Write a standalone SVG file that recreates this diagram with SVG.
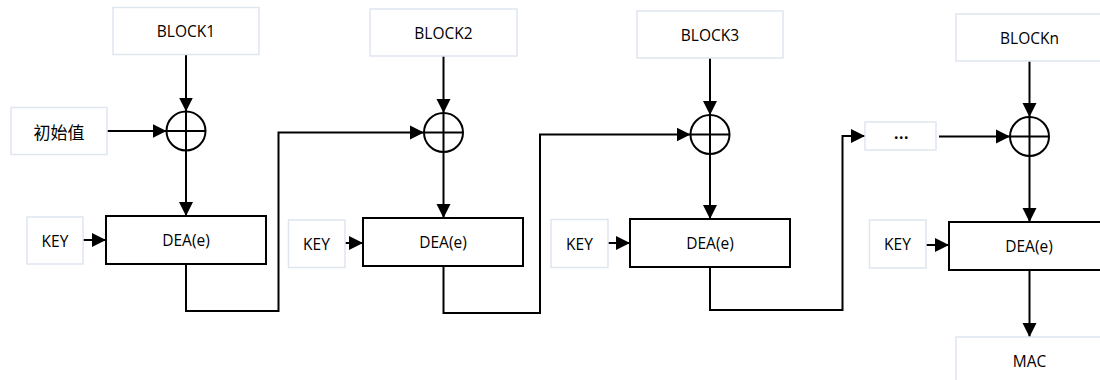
<svg xmlns="http://www.w3.org/2000/svg" width="1100" height="380" viewBox="0 0 1100 380">
  <style>
    .lbl { fill: #ffffff; stroke: #dfe5ef; stroke-width: 1.5; }
    .dea { fill: #ffffff; stroke: #000000; stroke-width: 2; }
    .xor { fill: none; stroke: #000000; stroke-width: 2; }
    .txt { font-family: "Open Sans", "Liberation Sans", Arial, sans-serif; font-size: 15.5px; fill: #000000; text-anchor: middle; dominant-baseline: central; }
    .cjk { font-family: "Noto Sans CJK SC", sans-serif; font-size: 17px; }
    .wire { fill: none; stroke: #000000; stroke-width: 2; }
    .arr { marker-end: url(#head); }
  </style>
  <defs>
    <marker id="head" markerUnits="userSpaceOnUse" markerWidth="15" markerHeight="15" viewBox="0 0 15 15" refX="14" refY="7.5" orient="auto">
      <path d="M0,0.5 L14,7.5 L0,14.5 z" fill="#000000"/>
    </marker>
  </defs>

  <rect width="1100" height="380" fill="#ffffff"/>

  <!-- connectors -->
  <g id="connectors">
    <!-- stage 1 -->
    <line class="wire arr" x1="186" y1="54" x2="186" y2="111.5"/>
    <line class="wire arr" x1="107" y1="131" x2="166.5" y2="131"/>
    <line class="wire arr" x1="186" y1="150.5" x2="186" y2="216"/>
    <line class="wire arr" x1="83" y1="240" x2="106" y2="240"/>
    <polyline class="wire arr" points="186,264 186,311 278.5,311 278.5,132.5 424,132.5"/>
    <!-- stage 2 -->
    <line class="wire arr" x1="443.5" y1="56" x2="443.5" y2="113"/>
    <line class="wire arr" x1="443.5" y1="152" x2="443.5" y2="218"/>
    <line class="wire arr" x1="345" y1="243" x2="363" y2="243"/>
    <polyline class="wire arr" points="443.5,266 443.5,313 540,313 540,134.5 690.5,134.5"/>
    <!-- stage 3 -->
    <line class="wire arr" x1="710" y1="58" x2="710" y2="115"/>
    <line class="wire arr" x1="710" y1="154" x2="710" y2="219"/>
    <line class="wire arr" x1="608" y1="243" x2="630" y2="243"/>
    <polyline class="wire arr" points="710,267 710,310 842.5,310 842.5,136 865,136"/>
    <!-- stage n -->
    <line class="wire arr" x1="939" y1="136.5" x2="1010" y2="136.5"/>
    <line class="wire arr" x1="1029.5" y1="61" x2="1029.5" y2="117"/>
    <line class="wire arr" x1="1029.5" y1="156" x2="1029.5" y2="222"/>
    <line class="wire arr" x1="926" y1="245" x2="949" y2="245"/>
    <line class="wire arr" x1="1029.5" y1="270" x2="1029.5" y2="337"/>
  </g>

  <!-- stage 1 -->
  <g id="block1">
    <rect class="lbl" x="113" y="7.5" width="146" height="47"/>
    <text class="txt" x="186" y="31">BLOCK1</text>
  </g>
  <g id="iv">
    <rect class="lbl" x="11" y="107.5" width="96" height="47"/>
    <text class="txt cjk" x="59" y="131">初始值</text>
  </g>
  <g id="xor1">
    <circle class="xor" cx="186" cy="131" r="19.5"/>
    <path class="xor" d="M166.5,131 H205.5 M186,111.5 V150.5"/>
  </g>
  <g id="key1">
    <rect class="lbl" x="27" y="217" width="56" height="47"/>
    <text class="txt" x="55" y="240.5">KEY</text>
  </g>
  <g id="dea1">
    <rect class="dea" x="106" y="216" width="160" height="48"/>
    <text class="txt" x="186" y="240">DEA(e)</text>
  </g>

  <!-- stage 2 -->
  <g id="block2">
    <rect class="lbl" x="370" y="9" width="147" height="47"/>
    <text class="txt" x="443.5" y="32.5">BLOCK2</text>
  </g>
  <g id="xor2">
    <circle class="xor" cx="443.5" cy="132.5" r="19.5"/>
    <path class="xor" d="M424,132.5 H463 M443.5,113 V152"/>
  </g>
  <g id="key2">
    <rect class="lbl" x="288.5" y="220" width="56.5" height="47.5"/>
    <text class="txt" x="316.5" y="244">KEY</text>
  </g>
  <g id="dea2">
    <rect class="dea" x="363" y="218" width="160" height="48"/>
    <text class="txt" x="443" y="242">DEA(e)</text>
  </g>

  <!-- stage 3 -->
  <g id="block3">
    <rect class="lbl" x="637" y="11" width="146" height="47"/>
    <text class="txt" x="710" y="34.5">BLOCK3</text>
  </g>
  <g id="xor3">
    <circle class="xor" cx="710" cy="134.5" r="19.5"/>
    <path class="xor" d="M690.5,134.5 H729.5 M710,115 V154"/>
  </g>
  <g id="key3">
    <rect class="lbl" x="551" y="219.5" width="57" height="48"/>
    <text class="txt" x="579.5" y="243.5">KEY</text>
  </g>
  <g id="dea3">
    <rect class="dea" x="630" y="219" width="160" height="48"/>
    <text class="txt" x="710" y="243">DEA(e)</text>
  </g>

  <!-- ellipsis between stage 3 and stage n -->
  <g id="more">
    <rect class="lbl" x="865" y="122" width="71" height="28"/>
    <text class="txt" x="901.5" y="133" font-size="17px" font-weight="bold" letter-spacing="0.5">...</text>
  </g>

  <!-- stage n -->
  <g id="blockn">
    <rect class="lbl" x="956" y="14" width="146" height="47"/>
    <text class="txt" x="1029.5" y="37.5">BLOCKn</text>
  </g>
  <g id="xorn">
    <circle class="xor" cx="1029.5" cy="136.5" r="19.5"/>
    <path class="xor" d="M1010,136.5 H1049 M1029.5,117 V156"/>
  </g>
  <g id="keyn">
    <rect class="lbl" x="869.5" y="220" width="56.5" height="48"/>
    <text class="txt" x="897.5" y="244">KEY</text>
  </g>
  <g id="dean">
    <rect class="dea" x="949" y="222" width="160" height="48"/>
    <text class="txt" x="1029" y="246">DEA(e)</text>
  </g>
  <g id="mac">
    <rect class="lbl" x="956" y="337" width="146" height="47"/>
    <text class="txt" x="1029.5" y="361">MAC</text>
  </g>
</svg>
